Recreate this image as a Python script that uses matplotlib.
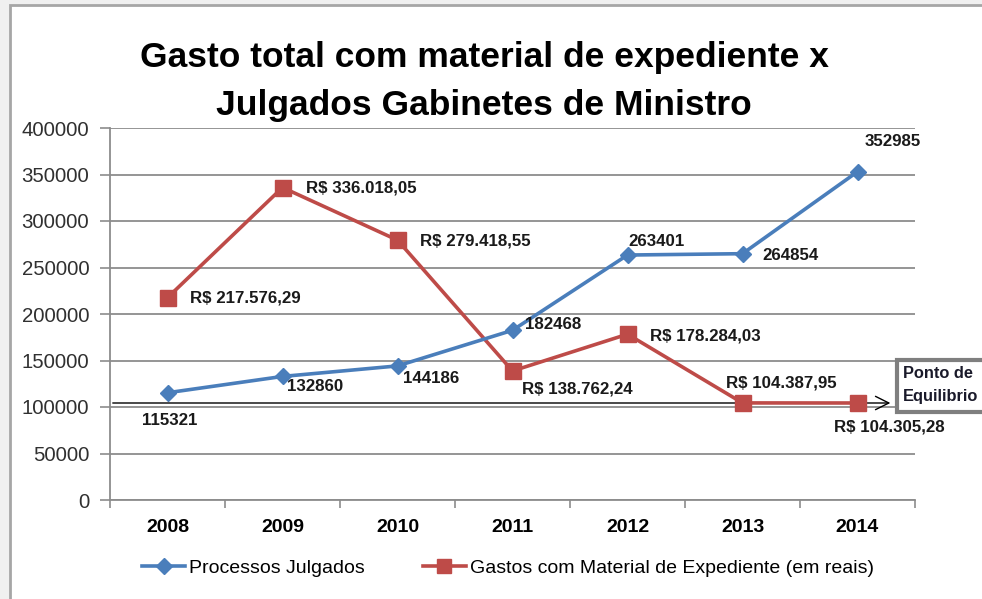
import matplotlib.pyplot as plt
from matplotlib.patches import Rectangle
from matplotlib.lines import Line2D

anos = ['2008', '2009', '2010', '2011', '2012', '2013', '2014']
processos = [115321, 132860, 144186, 182468, 263401, 264854, 352985]
gastos = [217576.29, 336018.05, 279418.55, 138762.24, 178284.03, 104387.95, 104305.28]
gastos_txt = ['R$ 217.576,29', 'R$ 336.018,05', 'R$ 279.418,55', 'R$ 138.762,24',
              'R$ 178.284,03', 'R$ 104.387,95', 'R$ 104.305,28']
equilibrio = 104300

azul = '#4a7ebb'
vermelho = '#be4b48'
W, H = 982, 599

plt.rcParams['font.family'] = ['Liberation Sans', 'DejaVu Sans']

fig = plt.figure(figsize=(W / 100, H / 100), dpi=100)
fig.patch.set_facecolor('#f0f0f0')
fig.patches.append(Rectangle((10 / W, -0.05), 1.1, 1 - 5 / H + 0.05, transform=fig.transFigure,
                             facecolor='white', edgecolor='#a6a6a6', lw=2, zorder=-5))

ax = fig.add_axes([110 / W, 1 - 500 / H, 805 / W, 372 / H])
ax.set_facecolor('none')
x = list(range(len(anos)))

ax.plot(x, processos, color=azul, lw=2.6, marker='D', ms=8.5, zorder=4)
ax.plot(x, gastos, color=vermelho, lw=2.6, marker='s', ms=11, zorder=3)

# rotulos (offset em pixels)
off_p = [(2, -28, 'center'), (5, -10, 'left'), (6, -13, 'left'), (13, 6, 'left'),
         (1, 14, 'left'), (20, -2, 'left'), (7, 30, 'left')]
for i, v in enumerate(processos):
    dx, dy, ha = off_p[i]
    ax.annotate(str(v), (i, v), xytext=(dx, dy), textcoords='offset pixels',
                ha=ha, va='center', fontsize=12.2, fontweight='bold', color='#1a1a1a', zorder=6)

off_g = [(22, 0, 'left'), (23, 0, 'left'), (23, -1, 'left'), (10, -18, 'left'),
         (23, -2, 'left'), (-17, 20, 'left'), (-24, -24, 'left')]
for i, v in enumerate(gastos):
    dx, dy, ha = off_g[i]
    ax.annotate(gastos_txt[i], (i, v), xytext=(dx, dy), textcoords='offset pixels',
                ha=ha, va='center', fontsize=12.2, fontweight='bold', color='#1a1a1a', zorder=6)

# seta do ponto de equilibrio
ax.annotate('', xy=(6.31, equilibrio), xytext=(-0.5, equilibrio),
            arrowprops=dict(arrowstyle='->', color='black', lw=1, mutation_scale=24), zorder=2)

ax.set_xlim(-0.5, 6.5)
ax.set_ylim(0, 400000)
ax.set_yticks(range(0, 400001, 50000))
ax.yaxis.grid(True, color='#8c8c8c', lw=1.3)
ax.set_axisbelow(True)
ax.set_xticks(x)
ax.set_xticklabels(anos, fontweight='bold', fontsize=14)
ax.set_xticks([i - 0.5 for i in range(len(anos) + 1)], minor=True)
ax.tick_params(axis='x', which='major', length=0, pad=14)
ax.tick_params(axis='x', which='minor', length=6, color='#8c8c8c', width=1.2)
ax.tick_params(axis='y', length=7, color='#8c8c8c', width=1.2, labelsize=14.7, labelcolor='#303030', pad=8)
for s in ['top', 'right']:
    ax.spines[s].set_visible(False)
for s in ['left', 'bottom']:
    ax.spines[s].set_color('#8c8c8c')
    ax.spines[s].set_linewidth(1.3)

fig.text(484 / W, 1 - 58 / H, 'Gasto total com material de expediente x', ha='center', va='center',
         fontsize=25.5, fontweight='bold', color='black')
fig.text(484 / W, 1 - 106 / H, 'Julgados Gabinetes de Ministro', ha='center', va='center',
         fontsize=25.5, fontweight='bold', color='black')

# caixa "Ponto de Equilibrio"
fig.patches.append(Rectangle((897 / W, 1 - 412 / H), 100 / W, 52 / H, transform=fig.transFigure,
                             facecolor='white', edgecolor='#7f7f7f', lw=3, zorder=5))
fig.text(903 / W, 1 - 373 / H, 'Ponto de', ha='left', va='center', fontsize=11.8,
         fontweight='bold', color='#1a1a2a', zorder=6)
fig.text(903 / W, 1 - 396 / H, 'Equilibrio', ha='left', va='center', fontsize=11.8,
         fontweight='bold', color='#1a1a2a', zorder=6)

handles = [Line2D([], [], color=azul, lw=2.6, marker='D', ms=8),
           Line2D([], [], color=vermelho, lw=2.6, marker='s', ms=10)]
fig.legend(handles, ['Processos Julgados', 'Gastos com Material de Expediente (em reais)'],
           loc='center', bbox_to_anchor=(508 / W, 1 - 568 / H), ncol=2, frameon=False,
           fontsize=14, handlelength=2.2, handletextpad=0.2, columnspacing=3.0)

fig.savefig('out.png', dpi=100, facecolor=fig.get_facecolor())
